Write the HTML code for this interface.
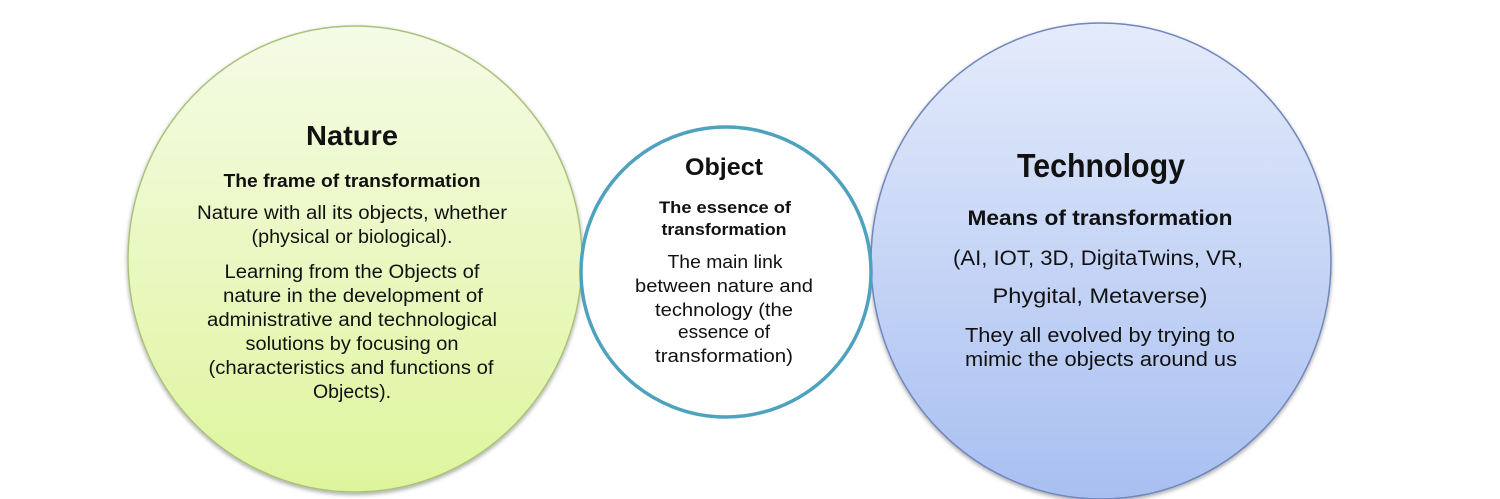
<!DOCTYPE html>
<html><head><meta charset="utf-8"><style>
html,body{margin:0;padding:0;background:#fff;width:1500px;height:499px;overflow:hidden}
svg text{font-family:"Liberation Sans",sans-serif;fill:#111;text-anchor:middle}
.b{font-weight:bold}
</style></head><body>
<svg width="1500" height="499" viewBox="0 0 1500 499" xmlns="http://www.w3.org/2000/svg">
<defs>
<linearGradient id="g1" x1="0" y1="0" x2="0" y2="1"><stop offset="0" stop-color="#f5fbe6"/><stop offset="1" stop-color="#def59c"/></linearGradient>
<linearGradient id="g2" x1="0" y1="0" x2="0" y2="1"><stop offset="0" stop-color="#e4ebfb"/><stop offset="1" stop-color="#a8bff1"/></linearGradient>
<filter id="sh" x="-10%" y="-10%" width="120%" height="125%"><feGaussianBlur in="SourceAlpha" stdDeviation="2"/><feOffset dy="2"/><feComponentTransfer><feFuncA type="linear" slope="0.35"/></feComponentTransfer><feMerge><feMergeNode/><feMergeNode in="SourceGraphic"/></feMerge></filter>
</defs>
<ellipse cx="355" cy="259" rx="227" ry="233" fill="url(#g1)" stroke="#a9c27a" stroke-width="1.5" filter="url(#sh)"/>
<ellipse cx="1101" cy="261" rx="230" ry="238" fill="url(#g2)" stroke="#6f86bd" stroke-width="1.5" filter="url(#sh)"/>
<circle cx="726" cy="272" r="145" fill="#fff" stroke="#4fa2bd" stroke-width="3.5"/>

<g lengthAdjust="spacingAndGlyphs">
<text x="352" y="145" class="b" font-size="28" textLength="92" lengthAdjust="spacingAndGlyphs">Nature</text>
<text x="352" y="187" class="b" font-size="18" textLength="257" lengthAdjust="spacingAndGlyphs">The frame of transformation</text>
<text x="352" y="219" font-size="19" textLength="310" lengthAdjust="spacingAndGlyphs">Nature with all its objects, whether</text>
<text x="352" y="243" font-size="19" textLength="201" lengthAdjust="spacingAndGlyphs">(physical or biological).</text>
<text x="352" y="278" font-size="19" textLength="255" lengthAdjust="spacingAndGlyphs">Learning from the Objects of</text>
<text x="353" y="302" font-size="19" textLength="260" lengthAdjust="spacingAndGlyphs">nature in the development of</text>
<text x="352" y="326" font-size="19" textLength="290" lengthAdjust="spacingAndGlyphs">administrative and technological</text>
<text x="352" y="350" font-size="19" textLength="213" lengthAdjust="spacingAndGlyphs">solutions by focusing on</text>
<text x="351" y="374" font-size="19" textLength="285" lengthAdjust="spacingAndGlyphs">(characteristics and functions of</text>
<text x="352" y="398" font-size="19" textLength="78" lengthAdjust="spacingAndGlyphs">Objects).</text>

<text x="724" y="175" class="b" font-size="24" textLength="78" lengthAdjust="spacingAndGlyphs">Object</text>
<text x="725" y="213" class="b" font-size="17" textLength="132" lengthAdjust="spacingAndGlyphs">The essence of</text>
<text x="724" y="235" class="b" font-size="17" textLength="125" lengthAdjust="spacingAndGlyphs">transformation</text>
<text x="725" y="268" font-size="18" textLength="115" lengthAdjust="spacingAndGlyphs">The main link</text>
<text x="724" y="292" font-size="18" textLength="178" lengthAdjust="spacingAndGlyphs">between nature and</text>
<text x="724" y="316" font-size="18" textLength="138" lengthAdjust="spacingAndGlyphs">technology (the</text>
<text x="724" y="338" font-size="18" textLength="92" lengthAdjust="spacingAndGlyphs">essence of</text>
<text x="724" y="362" font-size="18" textLength="138" lengthAdjust="spacingAndGlyphs">transformation)</text>

<text x="1101" y="177" class="b" font-size="33" textLength="168" lengthAdjust="spacingAndGlyphs">Technology</text>
<text x="1100" y="225" class="b" font-size="21" textLength="265" lengthAdjust="spacingAndGlyphs">Means of transformation</text>
<text x="1098" y="265" font-size="21" textLength="290" lengthAdjust="spacingAndGlyphs">(AI, IOT, 3D, DigitaTwins, VR,</text>
<text x="1100" y="303" font-size="21" textLength="215" lengthAdjust="spacingAndGlyphs">Phygital,  Metaverse)</text>
<text x="1100" y="342" font-size="20" textLength="270" lengthAdjust="spacingAndGlyphs">They all evolved by trying to</text>
<text x="1101" y="366" font-size="20" textLength="272" lengthAdjust="spacingAndGlyphs">mimic the objects around us</text>
</g>
</svg>
</body></html>
